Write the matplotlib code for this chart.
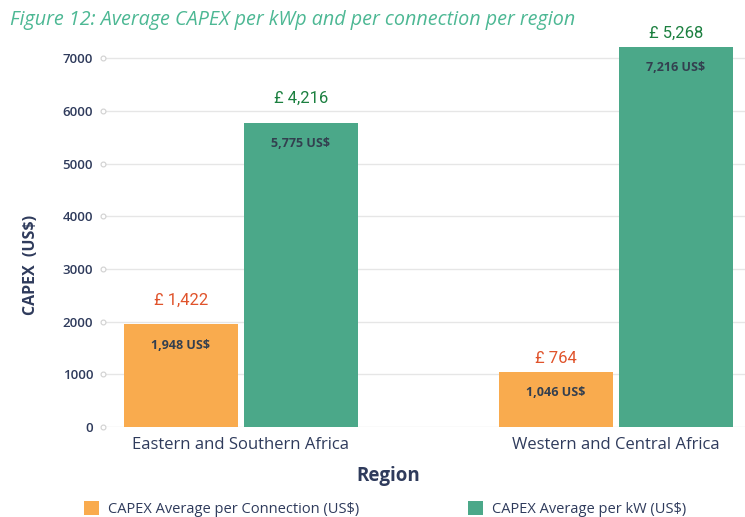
import numpy as np
import matplotlib
matplotlib.use("Agg")
import matplotlib.pyplot as plt

# data
regions = ["Eastern and Southern Africa", "Western and Central Africa"]
per_connection = [1948, 1046]
per_kw = [5775, 7216]
gbp_connection = [1422, 764]
gbp_kw = [4216, 5268]
series_names = ["CAPEX Average per Connection (US$)", "CAPEX Average per kW (US$)"]

ORANGE = "#F9AB4E"
GREEN = "#4BA889"
NAVY = "#2F3B5C"
FONT = ["Open Sans", "DejaVu Sans"]

plt.rcParams["font.family"] = FONT

fig = plt.figure(figsize=(7.45, 5.17), dpi=100)
ax = fig.add_axes([0.138, 0.174, 0.862, 0.739])

x = np.arange(len(regions))
w = 0.304
off = 0.16
b1 = ax.bar(x - off, per_connection, w, color=ORANGE, zorder=3, label=series_names[0])
b2 = ax.bar(x + off, per_kw, w, color=GREEN, zorder=3, label=series_names[1])

ax.set_xlim(-0.368, 1.344)
ax.set_ylim(0, 7250)
ax.set_yticks(range(0, 7001, 1000))
ax.set_xticks(x)
ax.set_xticklabels(regions, fontsize=12, color=NAVY)
ax.tick_params(axis="y", length=0, labelsize=9.5, labelcolor=NAVY, pad=7)
ax.tick_params(axis="x", length=0, pad=7)
for lbl in ax.get_yticklabels():
    lbl.set_fontweight("semibold")
ax.grid(axis="y", color="#e6e6e6", linewidth=1, zorder=0)
for s in ax.spines.values():
    s.set_visible(False)
# little open circles at the start of each gridline
ax.plot([0] * 8, range(0, 7001, 1000), "o", ms=3.5, mfc="white", mec="#d0d0d0",
        mew=0.8, transform=ax.get_yaxis_transform(), clip_on=False, zorder=4)

ax.set_ylabel("CAPEX  (US$)", fontsize=11.5, fontweight="bold", color=NAVY)
ax.yaxis.set_label_coords(-0.100, 0.424)
ax.set_xlabel("Region", fontsize=13.5, fontweight="bold", color=NAVY)
ax.xaxis.set_label_coords(0.444, -0.102)

# labels inside the bars
for bars, vals in [(b1, per_connection), (b2, per_kw)]:
    for r, v in zip(bars, vals):
        ax.annotate(f"{v:,} US$", (r.get_x() + r.get_width() / 2, v),
                    xytext=(0, -15), textcoords="offset points", ha="center", va="center",
                    fontsize=9, fontweight="bold", color="#333f4f", zorder=5)

# GBP labels above the bars
pads = [12, 4]
for bars, vals, col in [(b1, gbp_connection, "#E0532B"), (b2, gbp_kw, "#1C8040")]:
    for i, (r, v) in enumerate(zip(bars, vals)):
        ax.annotate(f"£ {v:,}", (r.get_x() + r.get_width() / 2, r.get_height()),
                    xytext=(0, pads[i]), textcoords="offset points", ha="center", va="bottom",
                    fontsize=12, color=col, family=["Roboto", "DejaVu Sans"])

fig.text(0.013, 0.962, "Figure 12: Average CAPEX per kWp and per connection per region",
         fontsize=14.2, style="italic", color="#4DB894", va="center")

leg = fig.legend(handles=[b1, b2], loc="center", bbox_to_anchor=(0.517, 0.015), ncol=2,
                 frameon=False, fontsize=10.5, handlelength=1.0, handleheight=1.1,
                 columnspacing=7.45, handletextpad=0.65)
for t in leg.get_texts():
    t.set_color(NAVY)

fig.savefig("out.png", dpi=100, facecolor="white")
